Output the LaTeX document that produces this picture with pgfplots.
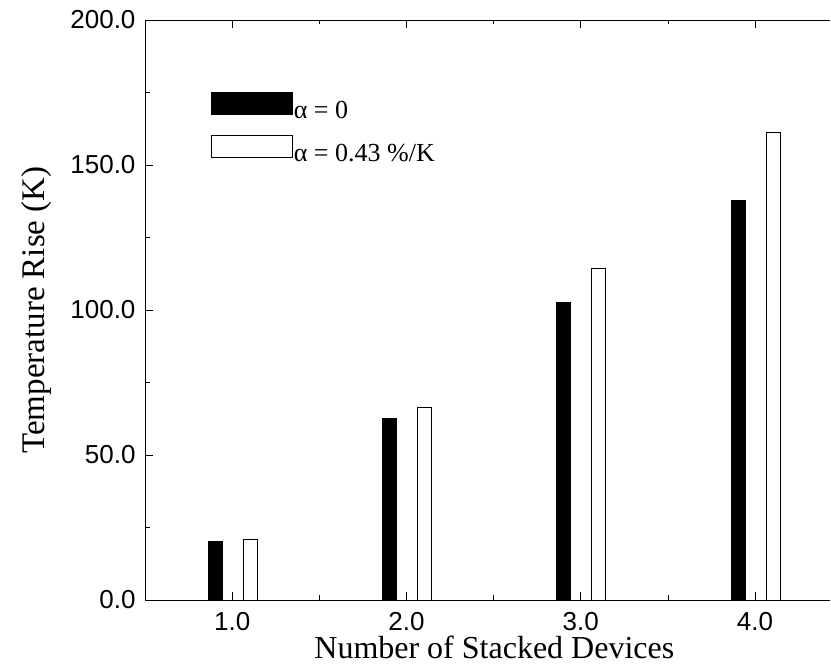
\documentclass[border=0pt]{standalone}
\usepackage{pgfplots}
\pgfplotsset{compat=1.18}
\usepackage{fontspec}
\setmainfont{Liberation Serif}
\newfontfamily\ticksans{Liberation Sans}
\usetikzlibrary{calc}

% temperature rise per stack height (K)
\pgfplotstableread{
x     y
0.903 20.3
1.903 62.6
2.903 102.6
3.903 137.7
}\alphazero
\pgfplotstableread{
x     y
1.103 21.0
2.103 66.3
3.103 114.4
4.103 161.1
}\alphafinite

\begin{document}
\begin{tikzpicture}
\begin{axis}[
  name=ax,
  scale only axis,
  width=685pt, height=580pt,
  xmin=0.5, xmax=4.43,
  ymin=0, ymax=200,
  axis x line*=box,
  axis y line*=left,
  axis line style={line width=0.8pt, black},
  every tick/.style={black, line width=0.8pt},
  tick align=inside,
  major tick length=8pt,
  minor tick length=4.5pt,
  xtick={1,2,3,4},
  minor x tick num=1,
  ytick={0,50,100,150,200},
  minor y tick num=1,
  /pgf/number format/.cd, fixed, fixed zerofill, precision=1, assume math mode=true,
  /pgfplots/.cd,
  ticklabel style={font=\ticksans\fontsize{26}{30}\selectfont},
  xticklabel style={yshift=-9pt},
  yticklabel style={xshift=-6pt},
  xlabel={Number of Stacked Devices},
  ylabel={Temperature Rise (K)},
  xlabel style={font=\fontsize{32}{36}\selectfont,
    at={(axis description cs:0.51,-0.1017)}, anchor=base},
  ylabel style={font=\fontsize{33}{37}\selectfont,
    at={(axis description cs:-0.146,0.5)}, anchor=base},
  legend style={draw=none, fill=none,
    at={(axis description cs:0.0964,0.8759)}, anchor=north west,
    inner sep=0pt, outer sep=0pt, row sep=15pt, column sep=1pt,
    font=\fontsize{26}{30}\selectfont,
    nodes={inner sep=0pt}},
  legend cell align=left,
  legend image code/.code={\draw[#1] (0pt,-4pt) rectangle (81pt,18pt);},
]
\addplot[ybar, bar shift=0pt, bar width=0.08, fill=black, draw=black, line width=0.8pt]
  table[x=x, y=y] {\alphazero};
\addlegendentry{α = 0}
\addplot[ybar, bar shift=0pt, bar width=0.08, fill=white, draw=black, line width=0.8pt]
  table[x=x, y=y] {\alphafinite};
\addlegendentry{α = 0.43 \%/K}
\end{axis}
\pgfresetboundingbox
\path[use as bounding box] ($(ax.south west)+(-145pt,-65pt)$) rectangle ($(ax.north east)+(1pt,20pt)$);
\end{tikzpicture}
\end{document}
